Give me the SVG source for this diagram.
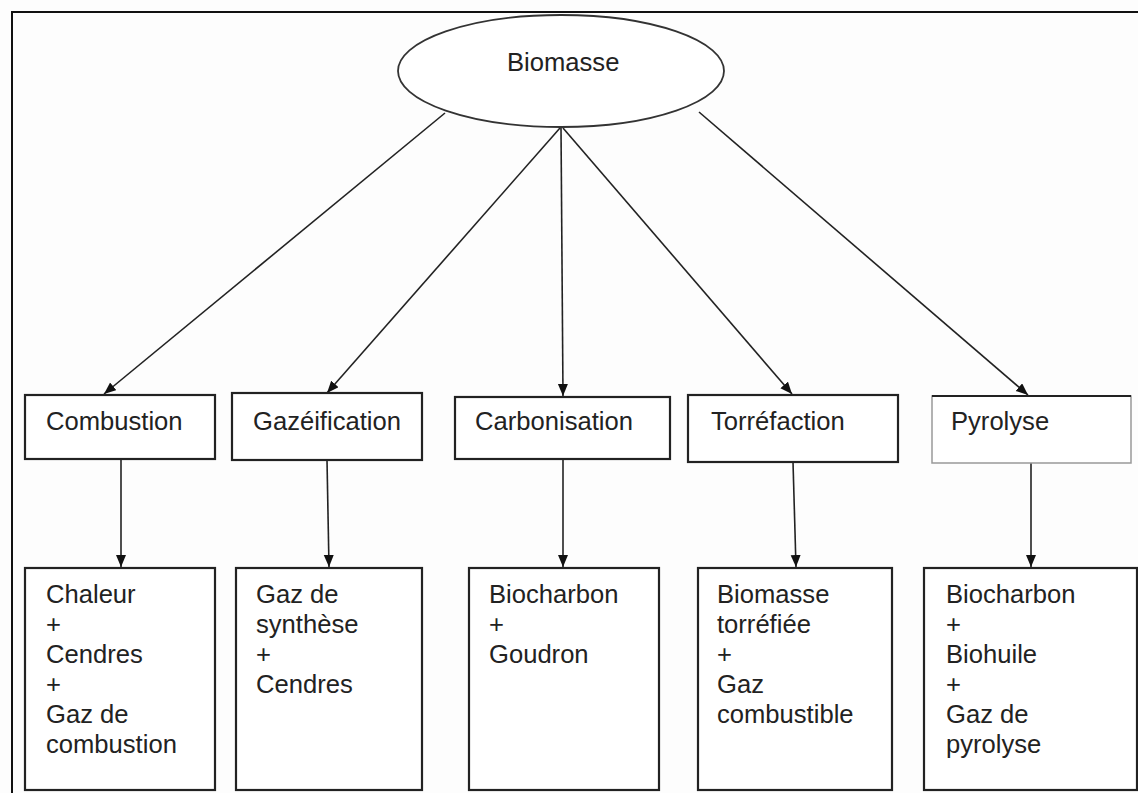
<svg xmlns="http://www.w3.org/2000/svg" width="1138" height="793" viewBox="0 0 1138 793">
<style>
.bg{fill:#fdfdfd}
.frame{fill:none;stroke:#111;stroke-width:2}
.box{fill:#fff;stroke:#222;stroke-width:2.2}
.lbox{fill:#fff;stroke:#999;stroke-width:1.5}
.ell{fill:#fff;stroke:#333;stroke-width:1.8}
.t{font-family:"Liberation Sans",Arial,sans-serif;font-size:25.6px;fill:#222}
.c{fill:none;stroke:#222;stroke-width:1.6}
</style>
<defs>
<marker id="ah" markerUnits="userSpaceOnUse" markerWidth="14" markerHeight="12" refX="12" refY="5" orient="auto">
<path d="M0,0 L12,5 L0,10 Z" fill="#111"/>
</marker>
</defs>
<rect class="bg" x="0" y="0" width="1138" height="793"/>
<path class="frame" d="M12,793 V12 H1138"/>
<g id="connectors">
<line class="c" x1="445" y1="113" x2="104" y2="394" marker-end="url(#ah)"/>
<line class="c" x1="560" y1="128" x2="327" y2="393" marker-end="url(#ah)"/>
<line class="c" x1="561" y1="128" x2="563" y2="396" marker-end="url(#ah)"/>
<line class="c" x1="563" y1="128" x2="792" y2="394" marker-end="url(#ah)"/>
<line class="c" x1="699" y1="112" x2="1028" y2="395" marker-end="url(#ah)"/>
<line class="c" x1="121" y1="459" x2="121" y2="567" marker-end="url(#ah)"/>
<line class="c" x1="327" y1="460" x2="329" y2="567" marker-end="url(#ah)"/>
<line class="c" x1="563" y1="459" x2="563" y2="567" marker-end="url(#ah)"/>
<line class="c" x1="793" y1="462" x2="796" y2="567" marker-end="url(#ah)"/>
<line class="c" x1="1031" y1="463" x2="1031" y2="567" marker-end="url(#ah)"/>
</g>
<g id="biomasse">
<ellipse class="ell" cx="561" cy="71" rx="163" ry="56"/>
<text class="t" x="507" y="71">Biomasse</text>
</g>
<g id="combustion">
<rect class="box" x="25" y="395" width="190" height="64"/>
<text class="t" x="46" y="430">Combustion</text>
</g>
<g id="gazeification">
<rect class="box" x="232" y="393" width="190" height="67"/>
<text class="t" x="253" y="430">Gazéification</text>
</g>
<g id="carbonisation">
<rect class="box" x="455" y="397" width="215" height="62"/>
<text class="t" x="475" y="430">Carbonisation</text>
</g>
<g id="torrefaction">
<rect class="box" x="688" y="395" width="210" height="67"/>
<text class="t" x="711" y="430">Torréfaction</text>
</g>
<g id="pyrolyse">
<rect class="lbox" x="932" y="396" width="199" height="67"/>
<line x1="932" y1="396" x2="1131" y2="396" stroke="#222" stroke-width="2"/>
<text class="t" x="951" y="430">Pyrolyse</text>
</g>
<g id="produits-combustion">
<rect class="box" x="25" y="568" width="190" height="222"/>
<text class="t"><tspan x="46" y="603">Chaleur</tspan><tspan x="46" y="633">+</tspan><tspan x="46" y="663">Cendres</tspan><tspan x="46" y="693">+</tspan><tspan x="46" y="723">Gaz de</tspan><tspan x="46" y="753">combustion</tspan></text>
</g>
<g id="produits-gazeification">
<rect class="box" x="236" y="568" width="186" height="222"/>
<text class="t"><tspan x="256" y="603">Gaz de</tspan><tspan x="256" y="633">synthèse</tspan><tspan x="256" y="663">+</tspan><tspan x="256" y="693">Cendres</tspan></text>
</g>
<g id="produits-carbonisation">
<rect class="box" x="469" y="568" width="190" height="222"/>
<text class="t"><tspan x="489" y="603">Biocharbon</tspan><tspan x="489" y="633">+</tspan><tspan x="489" y="663">Goudron</tspan></text>
</g>
<g id="produits-torrefaction">
<rect class="box" x="698" y="568" width="194" height="222"/>
<text class="t"><tspan x="717" y="603">Biomasse</tspan><tspan x="717" y="633">torréfiée</tspan><tspan x="717" y="663">+</tspan><tspan x="717" y="693">Gaz</tspan><tspan x="717" y="723">combustible</tspan></text>
</g>
<g id="produits-pyrolyse">
<rect class="box" x="924" y="568" width="213" height="222"/>
<text class="t"><tspan x="946" y="603">Biocharbon</tspan><tspan x="946" y="633">+</tspan><tspan x="946" y="663">Biohuile</tspan><tspan x="946" y="693">+</tspan><tspan x="946" y="723">Gaz de</tspan><tspan x="946" y="753">pyrolyse</tspan></text>
</g>
</svg>
